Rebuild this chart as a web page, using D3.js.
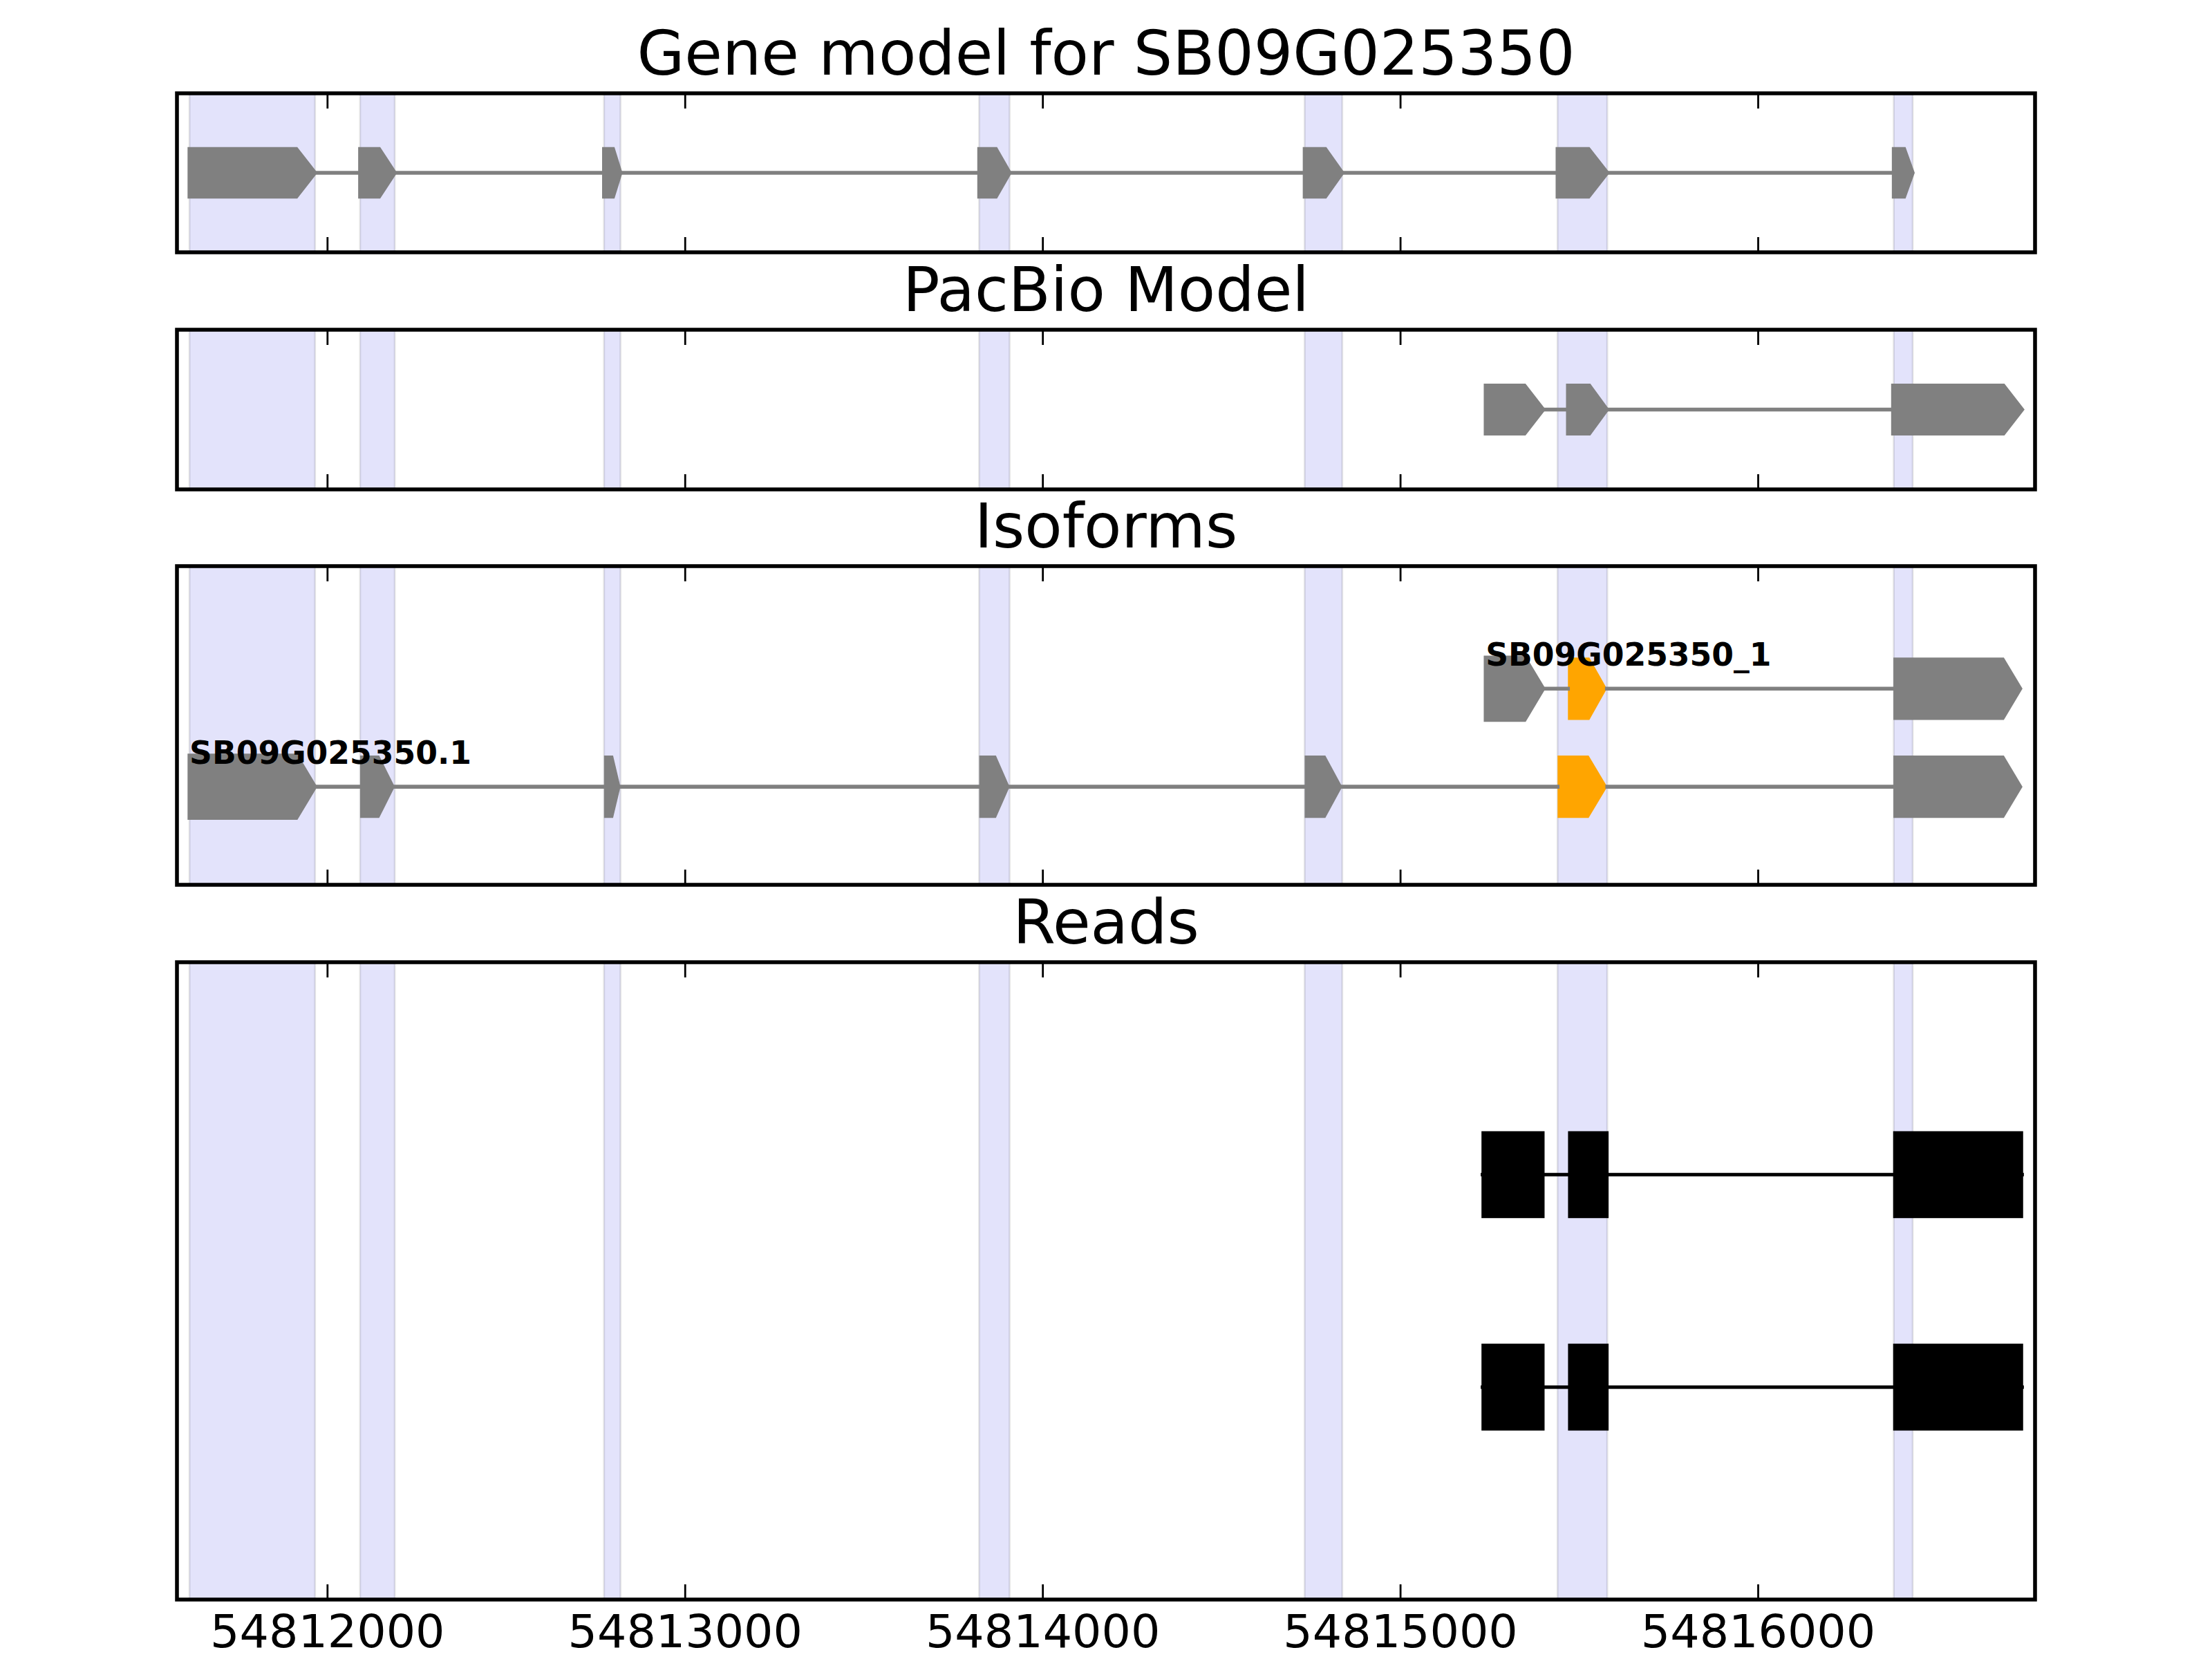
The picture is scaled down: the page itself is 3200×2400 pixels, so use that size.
<!DOCTYPE html>
<html>
<head>
<meta charset="utf-8">
<script src="https://cdn.jsdelivr.net/npm/d3@7"></script>
<style>html,body{margin:0;padding:0;background:#ffffff;}</style>
</head>
<body>
<svg id="chart" width="3200" height="2400"></svg>
<script>
// ---------------- DATA ----------------
const xDomain = [54811580, 54816775];
const tickValues = [54812000, 54813000, 54814000, 54815000, 54816000];
const panelTitles = ["Gene model for SB09G025350", "PacBio Model", "Isoforms", "Reads"];

// gene model exons (also used for the blue shaded spans)
const geneModelExons = [
  [54811615, 54811966], [54812092, 54812189], [54812774, 54812820],
  [54813823, 54813908], [54814733, 54814838], [54815440, 54815579],
  [54816380, 54816433]
];

// PacBio model exons
const pacbioExons = [
  [54815239, 54815400], [54815469, 54815578], [54816378, 54816739]
];

// isoforms
const isoformNames = ["SB09G025350.1", "SB09G025350_1"];
const isoformRows = [1, 2];
const isoform1Exons = [
  [54811615, 54811966], [54812092, 54812189], [54812774, 54812820],
  [54813823, 54813908], [54814733, 54814838], [54815440, 54815579],
  [54816379, 54816740]
];
const isoform1Highlight = [false, false, false, false, false, true, false];
const isoform2Exons = [
  [54815239, 54815400], [54815469, 54815578], [54816379, 54816740]
];
const isoform2Highlight = [false, true, false];

// reads
const readRows = [1, 2];
const read1Blocks = [[54815230, 54815401], [54815472, 54815580], [54816381, 54816739]];
const read2Blocks = [[54815230, 54815401], [54815472, 54815580], [54816381, 54816739]];

// ---------------- DRAWING ----------------
const svg = d3.select("#chart");
svg.append("rect").attr("width", 3200).attr("height", 2400).attr("fill", "#ffffff");

const LEFT = 256, RIGHT = 2944;
const x = d3.scaleLinear().domain(xDomain).range([LEFT, RIGHT]);

const GRAY = "#808080", ORANGE = "#FFA500";
const LW = 5.56;
const FONT = "'DejaVu Sans', 'Liberation Sans', sans-serif";

const panels = [
  {top: 135,  height: 230, ydom: [0, 2]},
  {top: 477,  height: 231, ydom: [0, 2]},
  {top: 819,  height: 461, ydom: [0, 3.25]},
  {top: 1392, height: 922, ydom: [0, 3]}
];
panels.forEach(p => {
  p.y = d3.scaleLinear().domain(p.ydom).range([p.top + p.height, p.top]);
  p.g = svg.append("g");
});

function exonPoints(s, e, yc, hh) {
  const x0 = x(s), x1 = x(e);
  const head = Math.min(27, 0.45 * (x1 - x0));
  return [[x0, yc - hh], [x1 - head, yc - hh], [x1, yc], [x1 - head, yc + hh], [x0, yc + hh]];
}
const line = d3.line();

// shaded spans in all panels
panels.forEach(p => {
  p.g.append("g").selectAll("rect").data(geneModelExons).join("rect")
    .attr("x", d => x(d[0]))
    .attr("width", d => x(d[1]) - x(d[0]))
    .attr("y", p.top)
    .attr("height", p.height)
    .attr("fill", "#e3e3fb")
    .attr("stroke", "rgba(0,0,0,0.1)")
    .attr("stroke-width", 2.8);
});

// transcript drawer
function drawTranscript(g, exons, colors, stroked, yc, hh, lineColor) {
  g.append("g").selectAll("path").data(exons).join("path")
    .attr("d", d => line(exonPoints(d[0], d[1], yc, hh)) + "Z")
    .attr("fill", (d, i) => colors[i])
    .attr("stroke", (d, i) => stroked[i] ? colors[i] : "none")
    .attr("stroke-width", LW)
    .attr("stroke-linejoin", "miter");
  const segs = d3.pairs(exons);
  g.append("g").selectAll("line").data(segs).join("line")
    .attr("x1", d => x(d[0][1])).attr("x2", d => x(d[1][0]))
    .attr("y1", yc).attr("y2", yc)
    .attr("stroke", lineColor).attr("stroke-width", LW)
    .attr("stroke-linecap", "square");
}

// panel 1: gene model
{
  const p = panels[0];
  const hh = Math.abs(p.y(0) - p.y(0.3));
  drawTranscript(p.g, geneModelExons, geneModelExons.map(() => GRAY),
    geneModelExons.map(() => true), p.y(1), hh, GRAY);
}
// panel 2: pacbio
{
  const p = panels[1];
  const hh = Math.abs(p.y(0) - p.y(0.3));
  drawTranscript(p.g, pacbioExons, pacbioExons.map(() => GRAY),
    pacbioExons.map(() => true), p.y(1), hh, GRAY);
}
// panel 3: isoforms
{
  const p = panels[2];
  const hh = Math.abs(p.y(0) - p.y(0.318));
  const isoData = [
    {name: isoformNames[0], row: isoformRows[0], exons: isoform1Exons, hl: isoform1Highlight},
    {name: isoformNames[1], row: isoformRows[1], exons: isoform2Exons, hl: isoform2Highlight}
  ];
  isoData.forEach(iso => {
    drawTranscript(p.g, iso.exons, iso.hl.map(h => h ? ORANGE : GRAY),
      iso.exons.map((d, i) => i === 0), p.y(iso.row), hh, GRAY);
  });
  isoData.forEach(iso => {
    p.g.append("text")
      .attr("x", x(iso.exons[0][0]))
      .attr("y", p.y(iso.row + 0.233))
      .attr("font-family", FONT)
      .attr("font-size", 45.6)
      .attr("font-weight", "bold")
      .attr("fill", "#000")
      .text(iso.name);
  });
}
// panel 4: reads
{
  const p = panels[3];
  const reads = [
    {row: readRows[0], blocks: read1Blocks},
    {row: readRows[1], blocks: read2Blocks}
  ];
  reads.forEach(r => {
    const yc = p.y(r.row);
    p.g.append("line")
      .attr("x1", x(r.blocks[0][0])).attr("x2", x(r.blocks[r.blocks.length - 1][1]))
      .attr("y1", yc).attr("y2", yc)
      .attr("stroke", "#000").attr("stroke-width", 5)
      .attr("stroke-linecap", "square");
    p.g.append("g").selectAll("rect").data(r.blocks).join("rect")
      .attr("x", d => x(d[0]))
      .attr("width", d => x(d[1]) - x(d[0]))
      .attr("y", p.y(r.row + 0.2))
      .attr("height", p.y(r.row - 0.2) - p.y(r.row + 0.2))
      .attr("fill", "#000")
      .attr("stroke", "#000")
      .attr("stroke-width", 2.8);
  });
}

// axes frames, ticks, titles
panels.forEach((p, i) => {
  const isLast = i === panels.length - 1;
  const bottomAxis = d3.axisBottom(x).tickValues(tickValues)
    .tickSizeInner(-22).tickSizeOuter(0)
    .tickFormat(isLast ? d3.format("d") : () => "");
  const ga = svg.append("g").attr("transform", `translate(0,${p.top + p.height})`).call(bottomAxis);
  ga.select(".domain").remove();
  ga.selectAll(".tick line").attr("stroke", "#000").attr("stroke-width", 2.8);
  ga.selectAll(".tick text")
    .attr("y", 69).attr("dy", 0)
    .attr("font-family", FONT).attr("font-size", 66.7).attr("fill", "#000");

  const topAxis = d3.axisTop(x).tickValues(tickValues)
    .tickSizeInner(-22).tickSizeOuter(0).tickFormat(() => "");
  const gt = svg.append("g").attr("transform", `translate(0,${p.top})`).call(topAxis);
  gt.select(".domain").remove();
  gt.selectAll(".tick line").attr("stroke", "#000").attr("stroke-width", 2.8);

  svg.append("rect")
    .attr("x", LEFT).attr("y", p.top)
    .attr("width", RIGHT - LEFT).attr("height", p.height)
    .attr("fill", "none").attr("stroke", "#000").attr("stroke-width", LW);

  svg.append("text")
    .attr("x", (LEFT + RIGHT) / 2)
    .attr("y", p.top - 27)
    .attr("text-anchor", "middle")
    .attr("font-family", FONT)
    .attr("font-size", 88.9)
    .attr("fill", "#000")
    .text(panelTitles[i]);
});
</script>
</body>
</html>
